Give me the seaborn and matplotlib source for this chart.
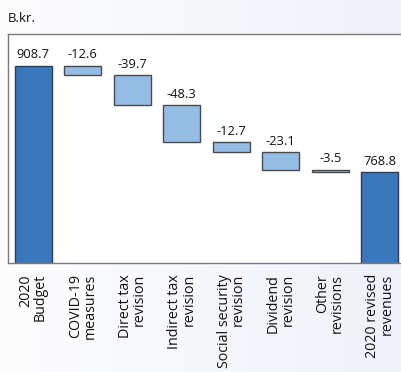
import numpy as np
import pandas as pd
import matplotlib
matplotlib.use("Agg")
import matplotlib.pyplot as plt
import seaborn as sns
from matplotlib.colors import LinearSegmentedColormap

categories = ["2020\nBudget", "COVID-19\nmeasures", "Direct tax\nrevision",
              "Indirect tax\nrevision", "Social security\nrevision",
              "Dividend\nrevision", "Other\nrevisions", "2020 revised\nrevenues"]
values = [908.7, -12.6, -39.7, -48.3, -12.7, -23.1, -3.5, 768.8]
is_total = [True, False, False, False, False, False, False, True]
unit_label = "B.kr."

# waterfall geometry derived from the values
bottoms, heights = [], []
running = 0.0
for v, tot in zip(values, is_total):
    if tot:
        bottoms.append(0.0)
        heights.append(v)
        running = v
    else:
        new = running + v
        bottoms.append(min(running, new))
        heights.append(abs(v))
        running = new
tops = [b + h for b, h in zip(bottoms, heights)]

df = pd.DataFrame({"cat": categories, "height": heights})

sns.set_style("white")
plt.rcParams["font.family"] = ["Open Sans", "DejaVu Sans"]

fig = plt.figure(figsize=(4.01, 3.72), dpi=100)
# soft gradient background
bg = fig.add_axes([0, 0, 1, 1], zorder=-10)
grad = np.linspace(0, 1, 256)[None, :]
cmap = LinearSegmentedColormap.from_list("bg", ["#fdfdfe", "#eef2f8"])
bg.imshow(grad, aspect="auto", cmap=cmap, extent=[0, 1, 0, 1])
bg.axis("off")

ax = fig.add_axes([8 / 401, 1 - 263 / 372, 396.5 / 401, 229 / 372])
ax.set_facecolor("white")

sns.barplot(data=df, x="cat", y="height", bottom=bottoms, width=0.74,
            color="#94bde6", edgecolor="#4a4a4a", linewidth=1.0, ax=ax,
            saturation=1)
for p, tot in zip(ax.patches, is_total):
    if tot:
        p.set_facecolor("#3a76bb")
        p.set_edgecolor("#2a3e55")

for i, (v, t) in enumerate(zip(values, tops)):
    ax.annotate(f"{v:.1f}", (i, t), xytext=(0, 3), textcoords="offset points",
                ha="center", va="bottom", fontsize=9.3, color="#111111")

ax.set_ylim(650, 950)
ax.set_xlim(-0.51, 7.5)
ax.set_yticks([])
ax.set_xlabel("")
ax.set_ylabel("")
ax.set_xticks(range(len(categories)))
ax.set_xticklabels(categories, rotation=90, ha="center", va="top",
                   multialignment="right", fontsize=10.3, linespacing=0.95)
ax.tick_params(axis="x", length=0, pad=8, colors="#111111")
for s in ["left", "top", "bottom"]:
    ax.spines[s].set_color("#7a7a7a")
    ax.spines[s].set_linewidth(1.0)
ax.spines["right"].set_visible(False)

fig.text(8 / 401, 1 - 18 / 372, unit_label, ha="left", va="center",
         fontsize=9.5, color="#111111")

fig.savefig("out.png", dpi=100)
